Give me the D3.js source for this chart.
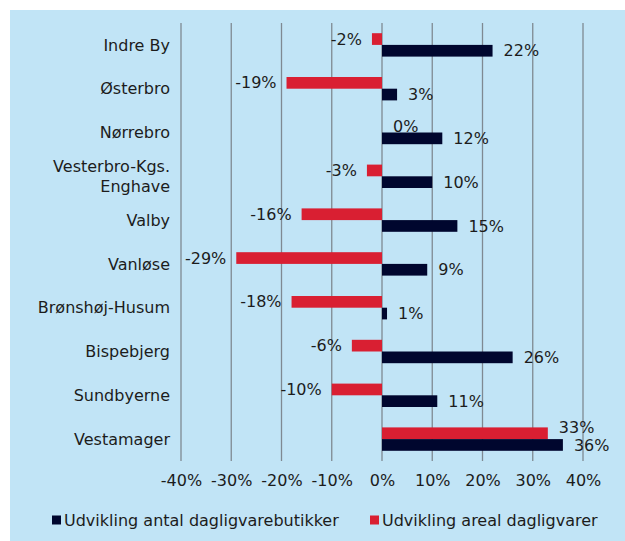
<!DOCTYPE html>
<html>
<head>
<meta charset="utf-8">
<script src="https://cdn.jsdelivr.net/npm/d3@7"></script>
<style>
  body { margin: 0; background: #fff; }
  text { font-family: "DejaVu Sans", sans-serif; fill: #1c1c1c; }
</style>
</head>
<body>
<svg id="chart" width="625" height="541"></svg>
<script>
const districts = ["Indre By", "Østerbro", "Nørrebro", "Vesterbro-Kgs. Enghave", "Valby",
    "Vanløse", "Brønshøj-Husum", "Bispebjerg", "Sundbyerne", "Vestamager"];
const antalButikker = [22, 3, 12, 10, 15, 9, 1, 26, 11, 36];
const arealDagligvarer = [-2, -19, 0, -3, -16, -29, -18, -6, -10, 33];
const xTicks = [-40, -30, -20, -10, 0, 10, 20, 30, 40];
const seriesNames = ["Udvikling antal dagligvarebutikker", "Udvikling areal dagligvarer"];

const navy = "#00062e";
const red = "#d91f32";
const fontSize = 16;

const svg = d3.select("#chart");

// panel background
svg.append("rect").attr("x", 10).attr("y", 10).attr("width", 615).attr("height", 531)
    .attr("fill", "#c1e4f6");

const x = d3.scaleLinear().domain([-40, 40]).range([181, 583]);
const y = d3.scaleBand().domain(districts).range([23, 461]);
const inner = d3.scaleBand().domain(["areal", "antal"]).range([0, 23.4]);
const barOffset = (y.bandwidth() - 23.4) / 2;

// gridlines
svg.append("g").selectAll("line").data(xTicks).enter().append("line")
    .attr("x1", d => x(d)).attr("x2", d => x(d))
    .attr("y1", 23).attr("y2", 461)
    .attr("stroke", "#7f8992").attr("stroke-width", 1.3);

// tick labels via axis
const axis = svg.append("g").attr("transform", "translate(0,461)")
    .call(d3.axisBottom(x).tickValues(xTicks).tickSize(0).tickPadding(14).tickFormat(d => d + "%"));
axis.select(".domain").remove();
axis.selectAll("text").attr("font-size", fontSize).attr("font-family", "DejaVu Sans, sans-serif").attr("fill", "#1c1c1c");

// category labels
const catG = svg.append("g");
districts.forEach(name => {
    const cy = y(name) + y.bandwidth() / 2;
    const t = catG.append("text").attr("x", 170).attr("text-anchor", "end").attr("font-size", fontSize);
    if (name === "Vesterbro-Kgs. Enghave") {
        t.append("tspan").attr("x", 170).attr("y", cy - 10).attr("dy", "0.35em").text("Vesterbro-Kgs.");
        t.append("tspan").attr("x", 170).attr("y", cy + 10).attr("dy", "0.35em").text("Enghave");
    } else {
        t.attr("y", cy).attr("dy", "0.35em").text(name);
    }
});

const rows = districts.map((d, i) => ({ district: d, antal: antalButikker[i], areal: arealDagligvarer[i] }));
const series = [
    { key: "areal", color: red },
    { key: "antal", color: navy }
];

series.forEach(s => {
    svg.append("g").selectAll("rect").data(rows).enter().append("rect")
        .attr("x", d => x(Math.min(0, d[s.key])))
        .attr("y", d => y(d.district) + barOffset + inner(s.key))
        .attr("width", d => Math.abs(x(d[s.key]) - x(0)))
        .attr("height", inner.bandwidth())
        .attr("fill", s.color);

    svg.append("g").selectAll("text").data(rows).enter().append("text")
        .attr("x", d => d[s.key] < 0 ? x(d[s.key]) - 10 : x(d[s.key]) + 11)
        .attr("y", d => {
            let cy = y(d.district) + barOffset + inner(s.key) + inner.bandwidth() / 2;
            // Vestamager: the two labels are pushed apart
            if (d.district === "Vestamager" && s.key === "areal") cy -= 6;
            return cy;
        })
        .attr("dy", "0.35em")
        .attr("text-anchor", d => d[s.key] < 0 ? "end" : "start")
        .attr("font-size", fontSize)
        .text(d => d[s.key] + "%");
});

// legend
const legend = svg.append("g").attr("transform", "translate(0,520)");
const legendItems = [
    { name: seriesNames[0], color: navy, x: 52 },
    { name: seriesNames[1], color: red, x: 370 }
];
legendItems.forEach(l => {
    legend.append("rect").attr("x", l.x).attr("y", -4.5).attr("width", 9).attr("height", 9).attr("fill", l.color);
    legend.append("text").attr("x", l.x + 12).attr("y", 0).attr("dy", "0.35em")
        .attr("font-size", fontSize).text(l.name);
});
</script>
</body>
</html>
